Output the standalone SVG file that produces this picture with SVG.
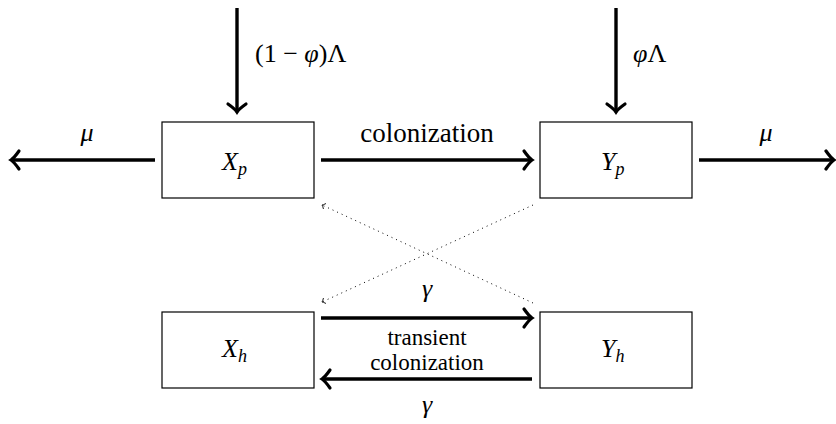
<svg xmlns="http://www.w3.org/2000/svg" width="836" height="424" viewBox="0 0 836 424">
<defs>
<marker id="ah" markerUnits="userSpaceOnUse" markerWidth="24" markerHeight="24" viewBox="-12 -12 24 24" refX="0" refY="0" orient="auto">
<path d="M-8,-9 Q-3,-2 0,0 Q-3,2 -8,9" fill="none" stroke="#000" stroke-width="3.2" stroke-linecap="round"/>
</marker>
<marker id="ahs" markerUnits="userSpaceOnUse" markerWidth="12" markerHeight="12" viewBox="-6 -6 12 12" refX="0" refY="0" orient="auto">
<path d="M-3,-3 Q-1,-0.5 0,0 Q-1,0.5 -3,3" fill="none" stroke="#000" stroke-width="0.8"/>
</marker>
<rect id="nodebox" width="152" height="76" fill="#fff" stroke="#000" stroke-width="1.2"/>
</defs>
<g id="connectors">
<g stroke="#000" stroke-width="3.4" fill="none" marker-end="url(#ah)">
<line x1="237" y1="8" x2="237" y2="112"/>
<line x1="616" y1="8" x2="616" y2="112"/>
<line x1="155" y1="160" x2="11" y2="160"/>
<line x1="699" y1="160" x2="834" y2="160"/>
<line x1="321" y1="160" x2="532" y2="160"/>
<line x1="321" y1="318" x2="532" y2="318"/>
<line x1="532" y1="379" x2="322" y2="379"/>
</g>
<g stroke="#000" stroke-width="1" fill="none" stroke-dasharray="1 4" marker-end="url(#ahs)">
<line x1="533" y1="303" x2="322" y2="205"/>
<line x1="533" y1="205" x2="322" y2="302"/>
</g>
<g font-family="Liberation Serif, DejaVu Serif, serif" font-size="26" fill="#000">
<text x="255" y="62">(1 − <tspan font-style="italic">φ</tspan>)Λ</text>
<text x="633" y="62"><tspan font-style="italic">φ</tspan>Λ</text>
<text font-style="italic" x="87" y="141" text-anchor="middle">μ</text>
<text font-style="italic" x="766" y="141" text-anchor="middle">μ</text>
<text x="427" y="142" text-anchor="middle" font-size="27">colonization</text>
<text font-style="italic" x="427" y="297" text-anchor="middle">γ</text>
<text x="427" y="345" text-anchor="middle" font-size="23">transient</text>
<text x="427" y="370" text-anchor="middle" font-size="23">colonization</text>
<text font-style="italic" x="427" y="413" text-anchor="middle">γ</text>
</g>
</g>
<g font-family="Liberation Serif, DejaVu Serif, serif" font-size="26" font-style="italic" fill="#000">
<g id="Xp">
<use href="#nodebox" x="162" y="122"/>
<text x="222" y="170">X<tspan font-size="18" dy="5">p</tspan></text>
</g>
<g id="Yp">
<use href="#nodebox" x="540" y="122"/>
<text x="601" y="170">Y<tspan font-size="18" dy="5">p</tspan></text>
</g>
<g id="Xh">
<use href="#nodebox" x="162" y="312"/>
<text x="222" y="357">X<tspan font-size="18" dy="5">h</tspan></text>
</g>
<g id="Yh">
<use href="#nodebox" x="540" y="312"/>
<text x="601" y="357">Y<tspan font-size="18" dy="5">h</tspan></text>
</g>
</g>
</svg>
